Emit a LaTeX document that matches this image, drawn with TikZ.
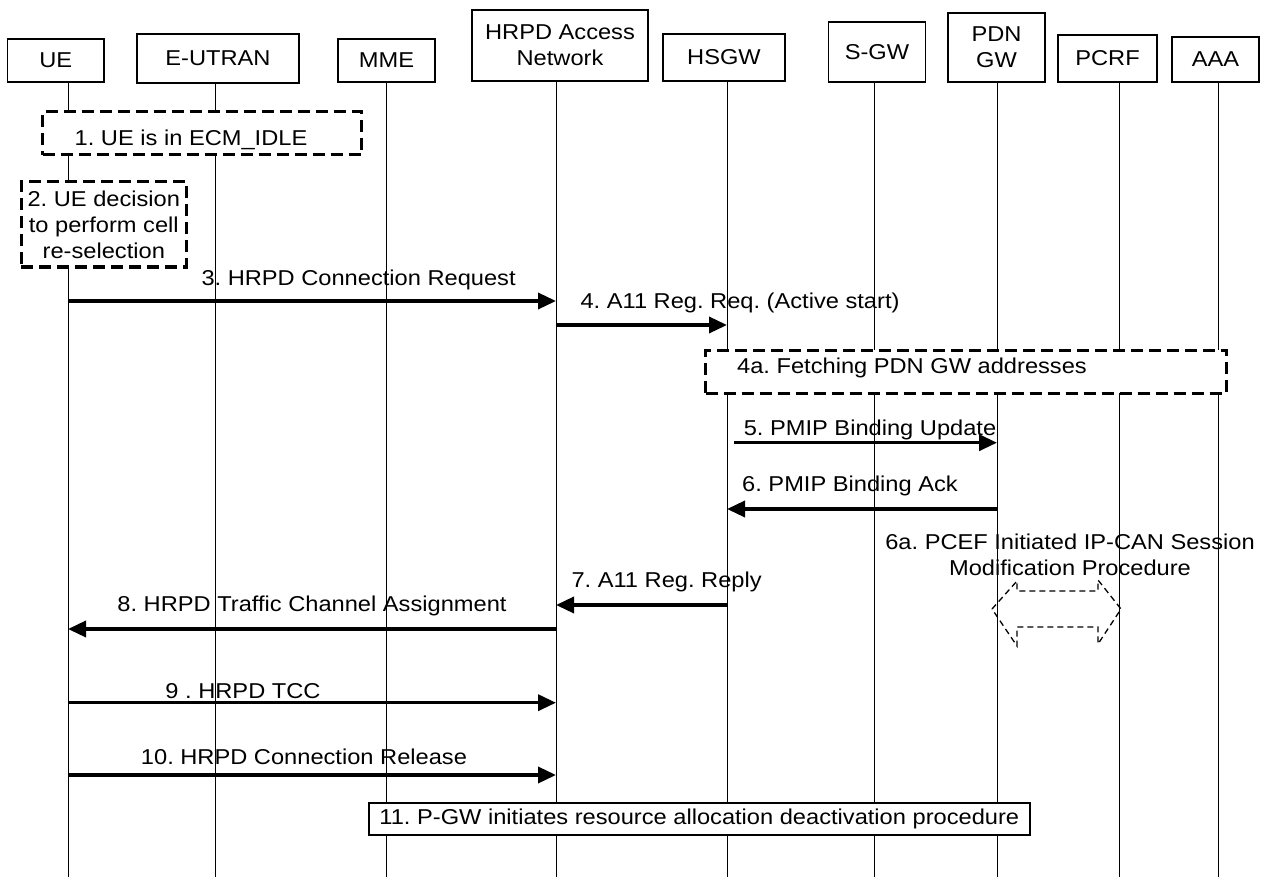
\documentclass[tikz,border=0pt]{standalone}
\usepackage{fontspec}
\setmainfont{Liberation Sans}[FakeStretch=1.1]
\frenchspacing
\usetikzlibrary{arrows.meta,calc}

\begin{document}
\begin{tikzpicture}[
    x=1pt, y=-1pt,
    every node/.style={font=\fontsize{21.5}{26}\selectfont},
    ent/.style={rectangle, draw, line width=1.3pt, fill=white, align=center, inner sep=0pt},
    life/.style={line width=1pt},
    msg/.style={line width=3.5pt, -{Triangle[length=18pt,width=16pt]}},
    note/.style={rectangle, draw, dash pattern=on 12pt off 6pt, line width=3pt, fill=white, inner sep=0pt, align=center},
    lbl/.style={inner sep=0pt, anchor=base}
]
    \useasboundingbox (0,0) rectangle (1268,877);

    \node[ent, minimum width=96.7pt, minimum height=43pt] (ue) at (55.7,60.5) {UE};
    \node[ent, minimum width=162pt, minimum height=49pt] (eutran) at (218,58.5) {E-UTRAN};
    \node[ent, minimum width=97pt, minimum height=43pt] (mme) at (386.5,60.5) {MME};
    \node[ent, minimum width=176pt, minimum height=71pt] (hrpd) at (560,45.5) {HRPD Access\\Network};
    \node[ent, minimum width=122pt, minimum height=47pt] (hsgw) at (724,57.5) {HSGW};
    \node[ent, minimum width=96.5pt, minimum height=60pt] (sgw) at (877,52) {S-GW};
    \node[ent, minimum width=97pt, minimum height=69pt] (pdngw) at (996.5,47.5) {PDN\\GW};
    \node[ent, minimum width=99pt, minimum height=47pt] (pcrf) at (1107.5,58.5) {PCRF};
    \node[ent, minimum width=87pt, minimum height=45pt] (aaa) at (1215.5,59.5) {AAA};

    \foreach \n/\x in {ue/68, eutran/215, mme/386, hrpd/556, hsgw/727, sgw/874.5, pdngw/997, pcrf/1119.5, aaa/1218} {
        \coordinate (\n-end) at (\x,877);
        \draw[life] (\n-end |- \n.south) -- (\n-end);
    }

    \node[note, minimum width=319pt, minimum height=43pt] (idle) at (202,133.5) {};
    \node[lbl] at (191,145.7) {1. UE is in ECM\_IDLE};
    \node[note, minimum width=165.5pt, minimum height=85pt] (resel) at (103.8,224.5) {2. UE decision\\to perform cell\\re-selection};
    \node[note, minimum width=521pt, minimum height=43pt] (fetch) at (966,371.5) {};
    \node[lbl] at (912,373.7) {4a. Fetching PDN GW addresses};
    \node[ent, line width=1.5pt, minimum width=661pt, minimum height=32pt] (deact) at (699.3,819) {11. P-GW initiates resource allocation deactivation procedure};

    \foreach \s/\y in {s3/301, s4/325, s5/442.7, s6/509, s7/605, s8/629, s9/702.7, s10/775}
        \coordinate (\s) at (0,\y);

    \draw[msg] (s3 -| ue-end) -- (s3 -| hrpd-end);
    \draw[msg] (s4 -| hrpd-end) -- (s4 -| hsgw-end);
    \draw[msg] ([xshift=7pt]s5 -| hsgw-end) -- (s5 -| pdngw-end);
    \draw[msg] (s6 -| pdngw-end) -- (s6 -| hsgw-end);
    \draw[msg] (s7 -| hsgw-end) -- (s7 -| hrpd-end);
    \draw[msg] (s8 -| hrpd-end) -- (s8 -| ue-end);
    \draw[msg] (s9 -| ue-end) -- (s9 -| hrpd-end);
    \draw[msg] (s10 -| ue-end) -- (s10 -| hrpd-end);

    \node[lbl] (m3) at (358.6,285) {3. HRPD Connection Request};
    \node[lbl] (m4) at (740,308) {4. A11 Reg. Req. (Active start)};
    \node[lbl] (m5) at (870,435) {5. PMIP Binding Update};
    \node[lbl] (m6) at (850,491) {6. PMIP Binding Ack};
    \node[inner sep=0pt, align=center] (m6a) at (1070,555) {6a. PCEF Initiated IP-CAN Session\\Modification Procedure};
    \node[lbl] (m7) at (666.6,587) {7. A11 Reg. Reply};
    \node[lbl] (m8) at (312,611) {8. HRPD Traffic Channel Assignment};
    \node[lbl] (m9) at (243,698) {9 . HRPD TCC};
    \node[lbl] (m10) at (304,764) {10. HRPD Connection Release};

    \draw[line width=1.3pt, dash pattern=on 6pt off 4pt]
        (992,609) -- (1017,581) -- (1017,591) -- (1098,591) -- (1098,580) -- (1121,609)
        -- (1098,644) -- (1098,627) -- (1017,627) -- (1017,646) -- cycle;
\end{tikzpicture}
\end{document}
